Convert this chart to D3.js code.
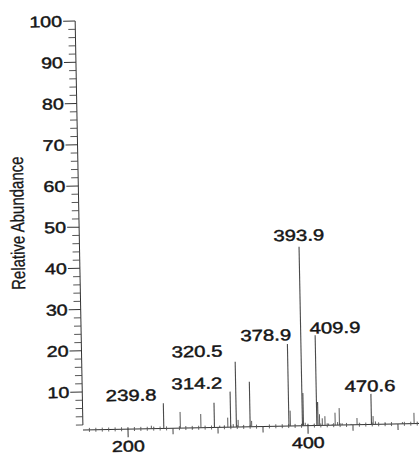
<!DOCTYPE html>
<html>
<head>
<meta charset="utf-8">
<script src="https://cdn.jsdelivr.net/npm/d3@7"></script>
<style>
  html, body { margin: 0; padding: 0; background: #fff; }
  svg { display: block; }
</style>
</head>
<body>
<svg id="chart" width="419" height="454"></svg>
<script>
// ---------- data ----------
const peakMz = [226, 229, 239.8, 246, 258.2, 266, 272, 281.1, 288, 296.1, 302, 307, 311, 314.2, 317,
  320.5, 322.5, 328, 335.8, 337.5, 342, 350, 358, 366, 372, 378.9, 380.5, 386, 393.9, 395.0, 397,
  402, 406, 409.9, 411.2, 413, 416, 419, 423, 427, 430.3, 433, 435, 438, 443, 448, 454.6, 458, 464,
  470.6, 472.5, 475, 480, 486, 492, 498, 505, 512, 518, 522, 526];
const peakAbundance = [1.5, 1.0, 6.9, 0.8, 4.7, 0.8, 0.6, 4.1, 0.8, 6.8, 1.2, 1.0, 3.1, 9.4, 1.5,
  16.6, 2.5, 1.0, 11.7, 2.2, 0.8, 0.6, 0.7, 0.8, 0.7, 20.7, 4.5, 0.8, 44.2, 8.7, 1.5,
  0.8, 1.0, 22.7, 6.5, 3.5, 2.5, 3.0, 1.2, 1.0, 3.8, 1.5, 4.9, 1.2, 0.8, 1.0, 2.4, 1.0, 0.8,
  8.2, 2.8, 1.5, 0.8, 1.0, 0.7, 0.8, 1.2, 0.8, 3.4, 1.0, 0.8];
const labelText = ["239.8", "314.2", "320.5", "378.9", "393.9", "409.9", "470.6"];
const labelMz = [239.8, 314.2, 320.5, 378.9, 393.9, 409.9, 470.6];
const labelAbundance = [6.9, 9.4, 16.6, 20.7, 44.2, 22.7, 8.2];
const yMajorTicks = [10, 20, 30, 40, 50, 60, 70, 80, 90, 100];
const xLabelTicks = [200, 400];
const xMidTicks = [250, 300, 350, 450, 500];
const yTitle = "Relative Abundance";

// ---------- layout ----------
const labelOffsets = [[-32, -3], [-33, -3.3], [-38, -5.6], [-21.5, -3.7], [0, -6], [20, -1.5], [-0.8, -2.4]];
const STRETCH = 1.27;
const FONT = "'Liberation Sans', Arial, Helvetica, sans-serif";
const INK = "#161616";

const svg = d3.select("#chart");
const root = svg.append("g").attr("transform", "rotate(-1.1, 83, 430)");

const x = d3.scaleLinear().domain([150, 530]).range([83, 425]);
const y = d3.scaleLinear().domain([0, 100]).range([433.2, 21]);
const axisY = 430;

function stretchText(g, px, py, txt, anchor, size, sx, sy) {
  return g.append("text")
    .attr("transform", `translate(${px},${py}) scale(${sx},${sy})`)
    .attr("text-anchor", anchor)
    .attr("font-family", FONT)
    .attr("font-size", size)
    .attr("fill", INK)
    .attr("stroke", INK)
    .attr("stroke-width", 0.45)
    .text(txt);
}

// ---------- y axis ----------
const yAxisX = 83;
const gy = root.append("g");
gy.append("line")
  .attr("x1", yAxisX).attr("x2", yAxisX)
  .attr("y1", y(100)).attr("y2", y(2))
  .attr("stroke", "#333").attr("stroke-width", 1);
const yMinor = d3.range(2, 100, 2).filter(v => v % 10 !== 0);
gy.selectAll("line.minor").data(yMinor).join("line")
  .attr("class", "minor")
  .attr("x1", yAxisX - 7).attr("x2", yAxisX)
  .attr("y1", d => y(d)).attr("y2", d => y(d))
  .attr("stroke", "#444").attr("stroke-width", 0.9);
gy.selectAll("line.major").data(yMajorTicks).join("line")
  .attr("class", "major")
  .attr("x1", yAxisX - 12).attr("x2", yAxisX)
  .attr("y1", d => y(d)).attr("y2", d => y(d))
  .attr("stroke", "#333").attr("stroke-width", 1);
yMajorTicks.forEach(v => {
  stretchText(gy, yAxisX - 13, y(v) + 5.5, String(v), "end", 15.5, STRETCH, 1);
});

// y title
root.append("text")
  .attr("transform", `translate(28,222) rotate(-90) scale(1,${STRETCH})`)
  .attr("text-anchor", "middle")
  .attr("font-family", FONT)
  .attr("font-size", 15)
  .attr("fill", INK)
  .attr("stroke", INK)
  .attr("stroke-width", 0.25)
  .text(yTitle);

// ---------- x axis ----------
const gx = root.append("g");
gx.append("line")
  .attr("x1", x(150)).attr("x2", x(530))
  .attr("y1", axisY).attr("y2", axisY)
  .attr("stroke", "#333").attr("stroke-width", 1);
const step = 50 / 7;
const xMinor = d3.range(150 + step, 530, step).filter(v => Math.abs(v / 50 - Math.round(v / 50)) > 0.01);
gx.selectAll("line.minor").data(xMinor).join("line")
  .attr("class", "minor")
  .attr("x1", d => x(d)).attr("x2", d => x(d))
  .attr("y1", axisY - 2).attr("y2", axisY + 2)
  .attr("stroke", "#555").attr("stroke-width", 0.9);
gx.selectAll("line.mid").data(xMidTicks).join("line")
  .attr("class", "mid")
  .attr("x1", d => x(d)).attr("x2", d => x(d))
  .attr("y1", axisY).attr("y2", axisY + 6)
  .attr("stroke", "#444").attr("stroke-width", 1);
gx.selectAll("line.lab").data(xLabelTicks).join("line")
  .attr("class", "lab")
  .attr("x1", d => x(d)).attr("x2", d => x(d))
  .attr("y1", axisY - 2).attr("y2", axisY + 8)
  .attr("stroke", "#333").attr("stroke-width", 1);
xLabelTicks.forEach(v => {
  stretchText(gx, x(v), 452.5, String(v), "middle", 15.5, STRETCH, 1);
});

// ---------- peaks ----------
const peaks = peakMz.map((m, i) => ({ m, v: peakAbundance[i] }));
root.append("g").selectAll("line").data(peaks).join("line")
  .attr("x1", d => x(d.m)).attr("x2", d => x(d.m))
  .attr("y1", axisY).attr("y2", d => y(d.v))
  .attr("stroke", "#4a4a4a")
  .attr("stroke-width", d => d.v > 5 ? 1.1 : 0.9);

// ---------- peak labels ----------
const gl = root.append("g");
labelText.forEach((t, i) => {
  const [dx, dy] = labelOffsets[i];
  stretchText(gl, x(labelMz[i]) + dx, y(labelAbundance[i]) + dy, t, "middle", 16, STRETCH, 1);
});
</script>
</body>
</html>
